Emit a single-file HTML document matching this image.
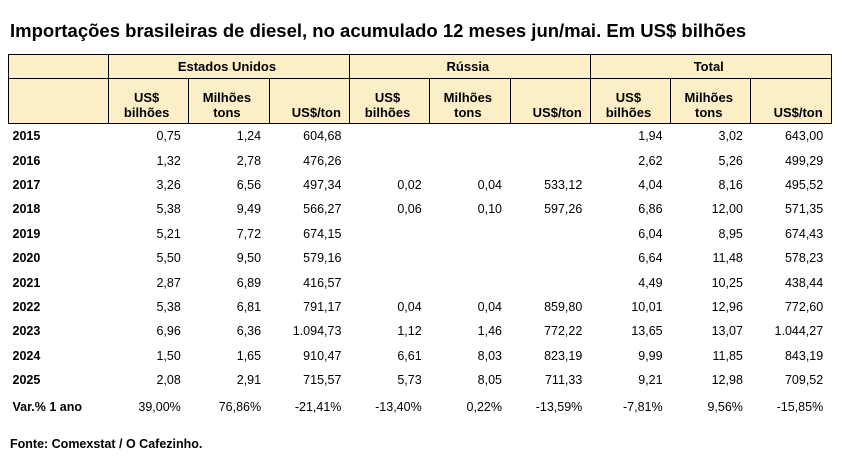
<!DOCTYPE html>
<html><head><meta charset="utf-8"><style>
body{margin:0;background:#fff;width:845px;height:473px;overflow:hidden;font-family:"Liberation Sans",sans-serif;color:#000;position:relative}
#title{position:absolute;left:10px;top:20px;font-size:18.5px;font-weight:bold;white-space:nowrap;letter-spacing:0px}
table{position:absolute;left:8px;top:54px;border-collapse:collapse;table-layout:fixed;width:823px;font-size:12.5px}
td,th{padding:0 8px 0 4px;white-space:nowrap}
th{background:#fcefc7;border:1px solid #000;font-weight:bold;text-align:center;line-height:15px;font-size:13px}
tr.h1 th{height:23px}
tr.h2 th{height:41px;vertical-align:bottom;padding-bottom:3px}
tbody td{text-align:right;height:24.4px}
tbody td:first-child{text-align:left;font-weight:bold;padding-left:4px}
tr.var td{height:29px}
#src{position:absolute;left:10px;top:437px;font-size:12.5px;font-weight:bold}
</style></head><body>
<div id="title">Importações brasileiras de diesel, no acumulado 12 meses jun/mai. Em US$ bilhões</div>
<table>
<colgroup><col style="width:100px"><col span="9" style="width:80.3px"></colgroup>
<thead>
<tr class="h1"><th></th><th colspan="3">Estados Unidos</th><th colspan="3">Rússia</th><th colspan="3">Total</th></tr>
<tr class="h2"><th></th>
<th>US$<br>bilhões</th><th>Milhões<br>tons</th><th style="text-align:right">US$/ton</th>
<th>US$<br>bilhões</th><th>Milhões<br>tons</th><th style="text-align:right">US$/ton</th>
<th>US$<br>bilhões</th><th>Milhões<br>tons</th><th style="text-align:right">US$/ton</th></tr>
</thead>
<tbody>
<tr><td>2015</td><td>0,75</td><td>1,24</td><td>604,68</td><td></td><td></td><td></td><td>1,94</td><td>3,02</td><td>643,00</td></tr>
<tr><td>2016</td><td>1,32</td><td>2,78</td><td>476,26</td><td></td><td></td><td></td><td>2,62</td><td>5,26</td><td>499,29</td></tr>
<tr><td>2017</td><td>3,26</td><td>6,56</td><td>497,34</td><td>0,02</td><td>0,04</td><td>533,12</td><td>4,04</td><td>8,16</td><td>495,52</td></tr>
<tr><td>2018</td><td>5,38</td><td>9,49</td><td>566,27</td><td>0,06</td><td>0,10</td><td>597,26</td><td>6,86</td><td>12,00</td><td>571,35</td></tr>
<tr><td>2019</td><td>5,21</td><td>7,72</td><td>674,15</td><td></td><td></td><td></td><td>6,04</td><td>8,95</td><td>674,43</td></tr>
<tr><td>2020</td><td>5,50</td><td>9,50</td><td>579,16</td><td></td><td></td><td></td><td>6,64</td><td>11,48</td><td>578,23</td></tr>
<tr><td>2021</td><td>2,87</td><td>6,89</td><td>416,57</td><td></td><td></td><td></td><td>4,49</td><td>10,25</td><td>438,44</td></tr>
<tr><td>2022</td><td>5,38</td><td>6,81</td><td>791,17</td><td>0,04</td><td>0,04</td><td>859,80</td><td>10,01</td><td>12,96</td><td>772,60</td></tr>
<tr><td>2023</td><td>6,96</td><td>6,36</td><td>1.094,73</td><td>1,12</td><td>1,46</td><td>772,22</td><td>13,65</td><td>13,07</td><td>1.044,27</td></tr>
<tr><td>2024</td><td>1,50</td><td>1,65</td><td>910,47</td><td>6,61</td><td>8,03</td><td>823,19</td><td>9,99</td><td>11,85</td><td>843,19</td></tr>
<tr><td>2025</td><td>2,08</td><td>2,91</td><td>715,57</td><td>5,73</td><td>8,05</td><td>711,33</td><td>9,21</td><td>12,98</td><td>709,52</td></tr>
<tr class="var"><td>Var.% 1 ano</td><td>39,00%</td><td>76,86%</td><td>-21,41%</td><td>-13,40%</td><td>0,22%</td><td>-13,59%</td><td>-7,81%</td><td>9,56%</td><td>-15,85%</td></tr>
</tbody>
</table>
<div id="src">Fonte: Comexstat / O Cafezinho.</div>
</body></html>
